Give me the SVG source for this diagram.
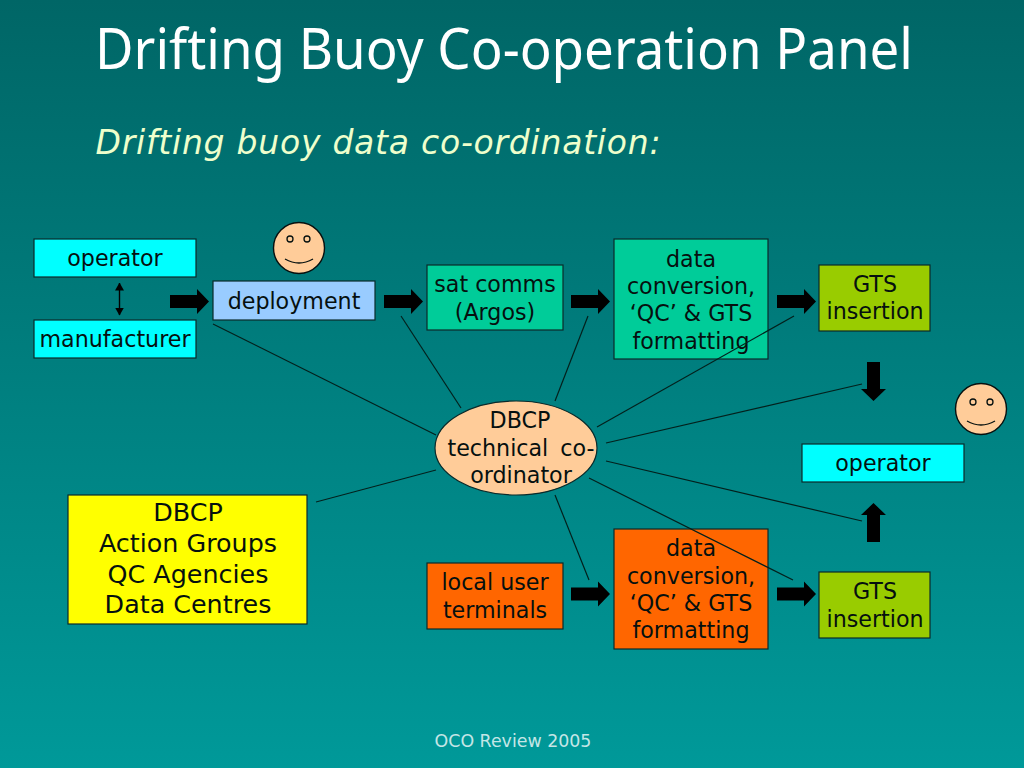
<svg xmlns="http://www.w3.org/2000/svg" width="1024" height="768" viewBox="0 0 1024 768">
<style>
text{font-family:"DejaVu Sans","Noto Sans",sans-serif;text-anchor:middle;fill:#06100f}
.n{font-size:22.2px}
.y{font-size:25.4px}
.b{stroke:#0a2a2a;stroke-width:1.2}
.c{stroke:#03201c;stroke-width:1.2;fill:none}
.face{fill:#ffcc99;stroke:#06100f;stroke-width:1.4}
.eye{fill:none;stroke:#06100f;stroke-width:1.3}
</style>
<defs>
<linearGradient id="bg" x1="0" y1="0" x2="0" y2="1"><stop offset="0" stop-color="#006666"/><stop offset="1" stop-color="#009999"/></linearGradient>
<marker id="tip" markerWidth="8" markerHeight="9" refX="7.5" refY="4.5" orient="auto-start-reverse" markerUnits="userSpaceOnUse"><path d="M0 0L8 4.5L0 9Z" fill="#000"/></marker>
<path id="ar" d="M0 -6.5H27V-12.5L39 0L27 12.5V6.5H0Z" fill="#000"/>
</defs>
<rect width="1024" height="768" fill="url(#bg)"/>
<g id="title">
<text x="504" y="69" style="font-size:57px;fill:#fff;font-family:'Noto Sans',sans-serif" textLength="818" lengthAdjust="spacingAndGlyphs">Drifting Buoy Co-operation Panel</text>
<text x="378" y="154" style="font-size:33px;font-style:italic;fill:#eeffcc" textLength="565" lengthAdjust="spacing">Drifting buoy data co-ordination:</text>
<text x="513" y="747" style="font-size:17.4px;fill:#c4e6e6">OCO Review 2005</text>
</g>
<g id="arrows">
<use href="#ar" x="170" y="301.5"/><use href="#ar" x="384" y="301.5"/><use href="#ar" x="571" y="301.5"/><use href="#ar" x="777" y="301.5"/>
<use href="#ar" x="571" y="594"/><use href="#ar" x="777" y="594"/>
<use href="#ar" transform="translate(873.5 362) rotate(90)"/>
<use href="#ar" transform="translate(873.5 542) rotate(-90)"/>
<line x1="119.5" y1="283" x2="119.5" y2="315" stroke="#000" stroke-width="1.4" marker-start="url(#tip)" marker-end="url(#tip)"/>
</g>
<g id="operator1"><rect class="b" x="34" y="239" width="162" height="38" fill="#00ffff"/><text class="n" x="115" y="266">operator</text></g>
<g id="manufacturer"><rect class="b" x="34" y="320" width="162" height="38" fill="#00ffff"/><text class="n" x="115" y="347">manufacturer</text></g>
<g id="deployment"><rect class="b" x="213" y="281" width="162" height="39" fill="#99ccff"/><text class="n" x="294" y="309">deployment</text></g>
<g id="satcomms"><rect class="b" x="427" y="265" width="136" height="65" fill="#00cc99"/><text class="n" x="495" y="292">sat comms</text><text class="n" x="495" y="320">(Argos)</text></g>
<g id="data1"><rect class="b" x="614" y="239" width="154" height="120" fill="#00cc99"/><text class="n" x="691" y="267">data</text><text class="n" x="691" y="294">conversion,</text><text class="n" x="691" y="321">‘QC’ &amp; GTS</text><text class="n" x="691" y="349">formatting</text></g>
<g id="gts1"><rect class="b" x="819" y="265" width="111" height="66" fill="#99cc00"/><text class="n" x="875" y="292">GTS</text><text class="n" x="875" y="319">insertion</text></g>
<g id="operator2"><rect class="b" x="802" y="444" width="162" height="38" fill="#00ffff"/><text class="n" x="883" y="471">operator</text></g>
<g id="coordinator"><ellipse cx="516" cy="448" rx="81" ry="47" fill="#ffcc99" stroke="#0a2a2a" stroke-width="1.2"/><text class="n" x="520" y="428">DBCP</text><text class="n" x="521" y="456" word-spacing="5">technical co-</text><text class="n" x="521" y="483">ordinator</text></g>
<g id="groups"><rect class="b" x="68" y="495" width="239" height="129" fill="#ffff00"/><text class="y" x="188" y="521">DBCP</text><text class="y" x="188" y="552">Action Groups</text><text class="y" x="188" y="583">QC Agencies</text><text class="y" x="188" y="613">Data Centres</text></g>
<g id="local"><rect class="b" x="427" y="563" width="136" height="66" fill="#ff6600"/><text class="n" x="495" y="590">local user</text><text class="n" x="495" y="618">terminals</text></g>
<g id="data2"><rect class="b" x="614" y="529" width="154" height="120" fill="#ff6600"/><text class="n" x="691" y="556">data</text><text class="n" x="691" y="584">conversion,</text><text class="n" x="691" y="611">‘QC’ &amp; GTS</text><text class="n" x="691" y="638">formatting</text></g>
<g id="gts2"><rect class="b" x="819" y="572" width="111" height="66" fill="#99cc00"/><text class="n" x="875" y="599">GTS</text><text class="n" x="875" y="627">insertion</text></g>
<g id="face1"><circle class="face" cx="299" cy="248" r="25.5"/><circle class="eye" cx="290" cy="239" r="3"/><circle class="eye" cx="307" cy="239" r="3"/><path class="eye" d="M285 259Q299 267 313 259"/></g>
<g id="face2"><circle class="face" cx="981" cy="409" r="25.5"/><circle class="eye" cx="973" cy="402" r="3"/><circle class="eye" cx="990" cy="402" r="3"/><path class="eye" d="M967 421Q981 429 995 421"/></g>
<g id="connectors">
<line class="c" x1="213" y1="324" x2="436" y2="435"/>
<line class="c" x1="401" y1="316" x2="461" y2="408"/>
<line class="c" x1="588" y1="316" x2="555" y2="401"/>
<line class="c" x1="794" y1="316" x2="597" y2="427"/>
<line class="c" x1="862" y1="384" x2="606" y2="443"/>
<line class="c" x1="862" y1="521" x2="606" y2="461"/>
<line class="c" x1="793" y1="580" x2="589" y2="478"/>
<line class="c" x1="589" y1="580" x2="555" y2="495"/>
<line class="c" x1="316" y1="502" x2="436" y2="470"/>
</g>
</svg>
